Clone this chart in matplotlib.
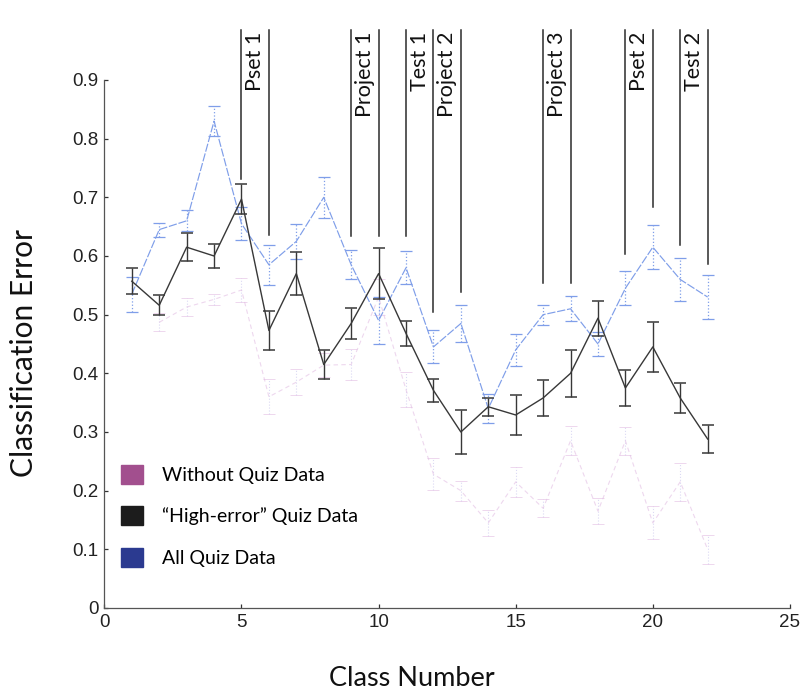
import matplotlib
matplotlib.use("Agg")
import matplotlib.pyplot as plt
from matplotlib.patches import Patch
from matplotlib.ticker import FixedLocator, FixedFormatter

# ---- data -------------------------------------------------------------
class_all = list(range(1, 23))
all_quiz = [0.535, 0.645, 0.66, 0.83, 0.655, 0.585, 0.625, 0.70, 0.585, 0.49, 0.58,
            0.445, 0.485, 0.34, 0.44, 0.50, 0.51, 0.45, 0.545, 0.615, 0.56, 0.53]
all_quiz_err = [0.03, 0.012, 0.018, 0.025, 0.028, 0.034, 0.03, 0.035, 0.025, 0.04, 0.028,
                0.028, 0.032, 0.025, 0.027, 0.017, 0.021, 0.02, 0.029, 0.037, 0.036, 0.037]

high_err = [0.557, 0.516, 0.615, 0.60, 0.697, 0.473, 0.57, 0.415, 0.485, 0.57, 0.468,
            0.371, 0.30, 0.343, 0.329, 0.358, 0.40, 0.494, 0.375, 0.445, 0.358, 0.288]
high_err_err = [0.022, 0.017, 0.024, 0.02, 0.025, 0.033, 0.037, 0.024, 0.026, 0.043, 0.022,
                0.02, 0.037, 0.015, 0.034, 0.03, 0.04, 0.03, 0.03, 0.043, 0.026, 0.024]

class_noquiz = list(range(2, 23))
no_quiz = [0.487, 0.513, 0.526, 0.542, 0.36, 0.385, 0.414, 0.415, 0.53, 0.372,
           0.228, 0.20, 0.145, 0.215, 0.17, 0.285, 0.165, 0.285, 0.145, 0.215, 0.10]
no_quiz_err = [0.015, 0.015, 0.01, 0.02, 0.03, 0.022, 0.02, 0.026, 0.03, 0.03,
               0.027, 0.017, 0.022, 0.025, 0.015, 0.025, 0.022, 0.024, 0.028, 0.032, 0.025]

# course events: label, first class, last class
event_labels = ["Pset 1", "Project 1", "Test 1", "Project 2", "Project 3", "Pset 2", "Test 2"]
event_start = [5, 9, 11, 12, 16, 19, 21]
event_end = [6, 10, 12, 13, 17, 20, 22]
# lower end of each event marker line, keyed by class number
marker_class = [5, 6, 9, 10, 11, 12, 13, 16, 17, 19, 20, 21, 22]
marker_floor = [0.731, 0.635, 0.634, 0.634, 0.634, 0.504, 0.538, 0.554, 0.554,
                0.603, 0.683, 0.618, 0.586]
marker_top = 0.985

legend_labels = ["Without Quiz Data", "\u201cHigh-error\u201d Quiz Data", "All Quiz Data"]
legend_colors = ["#a24f8e", "#1c1c1c", "#2b3a90"]

y_ticks = [0, 0.1, 0.2, 0.3, 0.4, 0.5, 0.6, 0.7, 0.8, 0.9]
y_tick_labels = ["0", "0.1", "0.2", "0.3", "0.4", "0.5", "0.6", "0.7", "0.8", "0.9"]
x_ticks = [0, 5, 10, 15, 20, 25]
x_tick_labels = ["0", "5", "10", "15", "20", "25"]

# ---- figure -----------------------------------------------------------
fig = plt.figure(figsize=(8.03, 6.92), dpi=100)
ax = fig.add_axes([0.130, 0.1214, 0.8537, 0.763])
ax.set_xlim(0, 25)
ax.set_ylim(0, 0.9)

label_font = ["Lato", "DejaVu Sans"]
tick_font = ["Liberation Sans", "DejaVu Sans"]

# faint series without quiz data
pk = ax.errorbar(class_noquiz, no_quiz, yerr=no_quiz_err, color="#e2bde3", lw=0.8,
                 ls=(0, (4, 3)), capsize=4, elinewidth=0.8, capthick=0.7, alpha=0.6, zorder=1)
for bc in pk[2]:
    bc.set_linestyle(":")
    bc.set_color("#c4c0ec")
for cap in pk[1]:
    cap.set_color("#cdc6ec")

# all quiz data (light blue)
bl = ax.errorbar(class_all, all_quiz, yerr=all_quiz_err, color="#7f9ee9", lw=0.85,
                 ls=(0, (7, 1.5)), capsize=4, elinewidth=0.9, capthick=0.9, zorder=2)
for bc in bl[2]:
    bc.set_linestyle(":")

# high-error quiz data (dark)
bk = ax.errorbar(class_all, high_err, yerr=high_err_err, color="#383838", lw=1.0,
                 capsize=4, elinewidth=1.0, capthick=1.1, zorder=3)

# event marker lines and labels above the data
for xc, yb in zip(marker_class, marker_floor):
    ax.plot([xc, xc], [yb, marker_top], color="#2b2b2b", lw=1.1, clip_on=False, zorder=4)
for lab, s, e in zip(event_labels, event_start, event_end):
    ax.text((s + e) / 2, marker_top - 0.003, lab, rotation=90, ha="center", va="top",
            fontsize=15.5, family=label_font, color="#111111", clip_on=False)

# legend
handles = [Patch(facecolor=c, edgecolor=c) for c in legend_colors]
leg = ax.legend(handles, legend_labels, loc="lower left", bbox_to_anchor=(0.024, 0.078),
                frameon=False, handlelength=1.13, handleheight=1.13, labelspacing=1.15,
                handletextpad=1.0, borderpad=0, borderaxespad=0,
                prop={"family": label_font, "size": 14})

# axes styling
for side in ("top", "right"):
    ax.spines[side].set_visible(False)
for side in ("left", "bottom"):
    ax.spines[side].set_color("#555555")
    ax.spines[side].set_linewidth(0.9)
ax.yaxis.set_major_locator(FixedLocator(y_ticks))
ax.yaxis.set_major_formatter(FixedFormatter(y_tick_labels))
ax.xaxis.set_major_locator(FixedLocator(x_ticks))
ax.xaxis.set_major_formatter(FixedFormatter(x_tick_labels))
ax.tick_params(direction="in", length=3, width=0.9, color="#333333", labelsize=13.5, pad=4)
for t in ax.get_xticklabels() + ax.get_yticklabels():
    t.set_family(tick_font)
    t.set_color("#222222")

ax.set_xlabel("Class Number", family=label_font, fontsize=19.5, color="#111111")
ax.set_ylabel("Classification Error", family=label_font, fontsize=21.5, color="#111111")
ax.xaxis.set_label_coords(0.449, -0.133)
ax.yaxis.set_label_coords(-0.117, 0.483)
ax.xaxis.label.set_va("center")
ax.yaxis.label.set_va("center")

fig.savefig("out.png", dpi=100)
